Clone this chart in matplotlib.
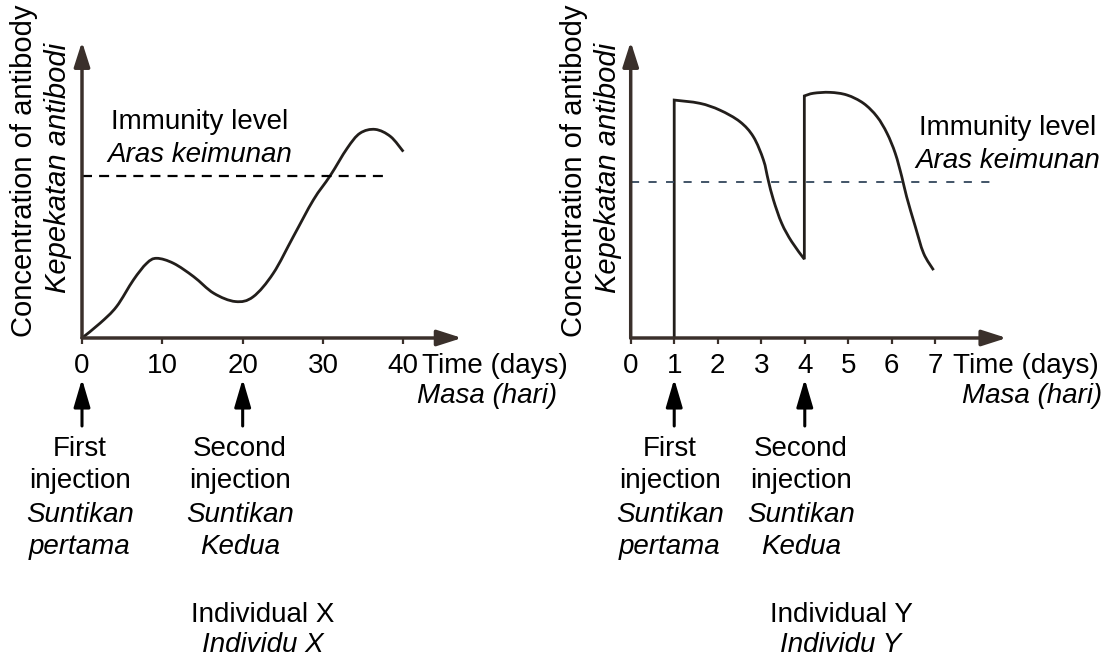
import matplotlib
matplotlib.use("Agg")
import numpy as np
import matplotlib.pyplot as plt
from matplotlib import transforms
from matplotlib.path import Path
from matplotlib.patches import PathPatch

plt.rcParams["font.family"] = ["Liberation Sans", "DejaVu Sans"]

# Individual X: antibody concentration (arbitrary units) against time (days)
days_x = [0, 2.25, 4.3, 6.4, 8.05, 9.3, 11.4, 13.9, 16.4, 19.1, 21.3, 23.8,
          26.3, 28.8, 30.9, 33.0, 34.6, 36.5, 38.4, 40.0]
conc_x = [0, 5.0, 10.6, 19.6, 25.2, 26.9, 25.2, 20.7, 15.1, 12.3, 13.9, 21.8,
          34.2, 46.6, 54.8, 64.0, 69.1, 70.4, 68.0, 62.9]
immunity_x = 54.8
ticks_x = [0, 10, 20, 30, 40]
injections_x = [0, 20]

# Individual Y: antibody concentration (arbitrary units) against time (days)
days_y = [1, 1, 1.59, 2.05, 2.51, 2.82, 3.05, 3.16, 3.28, 3.47, 3.70, 3.99,
          3.99, 4.20, 4.58, 4.97, 5.35, 5.66, 5.89, 6.08, 6.23, 6.34, 6.54,
          6.73, 6.96]
conc_y = [0, 80.3, 79.2, 76.9, 73.0, 67.9, 60.1, 53.3, 46.6, 38.7, 32.5, 26.6,
          81.7, 82.6, 82.9, 82.0, 79.2, 74.7, 69.1, 62.3, 54.4, 47.7, 37.6,
          28.6, 22.9]
immunity_y = 52.8
ticks_y = [0, 1, 2, 3, 4, 5, 6, 7]
injections_y = [1, 4]

W, H = 1117, 659
fig = plt.figure(figsize=(W / 100, H / 100), dpi=100)
fig.patch.set_facecolor("white")

AXIS_COL = "#3a302b"
CURVE_COL = "#221e1b"
FS = 20


def fx(px):
    return px / W


def fy(py):
    return 1 - py / H


def curve_path(xs, ys):
    """Path through every point: straight where time does not advance
    (injection jumps), cubic Catmull-Rom pieces elsewhere."""
    pts = np.column_stack([xs, ys]).astype(float)
    runs, start = [], 0
    for i in range(1, len(pts)):
        if pts[i, 0] == pts[i - 1, 0]:
            runs.append(pts[start:i])
            start = i
    runs.append(pts[start:])

    verts = [tuple(pts[0])]
    codes = [Path.MOVETO]
    for r, run in enumerate(runs):
        if r > 0:
            verts.append(tuple(run[0]))
            codes.append(Path.LINETO)
        n = len(run)
        for i in range(n - 1):
            p0 = run[i - 1] if i > 0 else run[i]
            p1, p2 = run[i], run[i + 1]
            p3 = run[i + 2] if i + 2 < n else run[i + 1]
            c1 = p1 + (p2 - p0) / 6.0
            c2 = p2 - (p3 - p1) / 6.0
            verts += [tuple(c1), tuple(c2), tuple(p2)]
            codes += [Path.CURVE4] * 3
    return Path(verts, codes)


def panel(left_px, right_px, xmax, days, conc, level, level_end, level_style,
          ticks, injections, inj_centers, time_px, masa_px, imm_cx, imm_base,
          ylab_cx, kep_cx, title_cx, names):
    ax = fig.add_axes([fx(left_px), fy(338), (right_px - left_px) / W, (338 - 41.7) / H])
    ax.set_xlim(0, xmax)
    ax.set_ylim(0, 100)
    for s in ax.spines.values():
        s.set_visible(False)
    ax.set_facecolor("none")
    ax.set_yticks([])
    ax.set_xticks(ticks)
    ax.set_xticklabels([str(t) for t in ticks])
    ax.tick_params(axis="x", direction="out", length=4, width=1.6,
                   colors=AXIS_COL, labelcolor="black", labelsize=FS, pad=7)

    # axes drawn as arrows
    arrow = dict(arrowstyle="-|>,head_length=0.75,head_width=0.24",
                 mutation_scale=20, lw=2.5, color=AXIS_COL,
                 shrinkA=0, shrinkB=0)
    ax.annotate("", xy=(xmax, 0), xytext=(0, 0), arrowprops=arrow,
                annotation_clip=False)
    ax.annotate("", xy=(0, 100), xytext=(0, 0), arrowprops=arrow,
                annotation_clip=False)

    # immunity level
    col, lw, dash = level_style
    ax.plot([0, level_end], [level, level], color=col, lw=lw,
            dashes=dash, clip_on=False)

    # antibody curve
    ax.add_patch(PathPatch(curve_path(days, conc), fill=False,
                           edgecolor=CURVE_COL, lw=2.0, joinstyle="miter",
                           capstyle="butt", clip_on=False))

    # injection arrows and labels
    blend = transforms.blended_transform_factory(ax.transData, fig.transFigure)
    inj_arrow = dict(arrowstyle="-|>,head_length=0.85,head_width=0.25",
                     mutation_scale=20, lw=2.2, color="black",
                     shrinkA=0, shrinkB=0)
    labels = [["First", "injection", "Suntikan", "pertama"],
              ["Second", "injection", "Suntikan", "Kedua"]]
    baselines = [455.5, 488, 521.5, 554.5]
    for day, cx, lines in zip(injections, inj_centers, labels):
        ax.annotate("", xy=(day, fy(379)), xytext=(day, fy(426)),
                    xycoords=blend, textcoords=blend, arrowprops=inj_arrow,
                    annotation_clip=False)
        for i, (txt, base) in enumerate(zip(lines, baselines)):
            fig.text(fx(cx), fy(base), txt, ha="center", va="baseline",
                     fontsize=FS, style="italic" if i >= 2 else "normal")

    # axis titles
    fig.text(fx(time_px[0]), fy(373), "Time (days)", ha="left",
             va="baseline", fontsize=FS)
    fig.text(fx(masa_px), fy(403.3), "Masa (hari)", ha="left",
             va="baseline", fontsize=FS, style="italic")
    fig.text(fx(ylab_cx), fy(171), "Concentration of antibody", rotation=90,
             ha="center", va="center", fontsize=21)
    fig.text(fx(kep_cx), fy(168), "Kepekatan antibodi", rotation=90,
             ha="center", va="center", fontsize=21, style="italic")

    # immunity level caption
    fig.text(fx(imm_cx), fy(imm_base[0]), "Immunity level", ha="center",
             va="baseline", fontsize=FS)
    fig.text(fx(imm_cx), fy(imm_base[1]), "Aras keimunan", ha="center",
             va="baseline", fontsize=FS, style="italic")

    # panel caption
    fig.text(fx(title_cx), fy(621.5), names[0], ha="center", va="baseline",
             fontsize=FS)
    fig.text(fx(title_cx), fy(652.5), names[1], ha="center", va="baseline",
             fontsize=FS, style="italic")
    return ax


panel(82, 462, 47.3, days_x, conc_x, immunity_x, 38.1,
      ("black", 1.6, (4.5, 3.2)), ticks_x, injections_x, [80, 240],
      (421.7,), 416.7, 200, (129.3, 161.7), 24, 58, 263,
      ("Individual X", "Individu X"))

panel(630.7, 1006.7, 8.64, days_y, conc_y, immunity_y, 8.44,
      ("#33465c", 1.3, (4.5, 5.2)), ticks_y, injections_y, [670, 801],
      (953,), 961.7, 1008, (135, 168), 573.5, 607.5, 841,
      ("Individual Y", "Individu Y"))

fig.savefig("out.png", dpi=100, facecolor="white")
